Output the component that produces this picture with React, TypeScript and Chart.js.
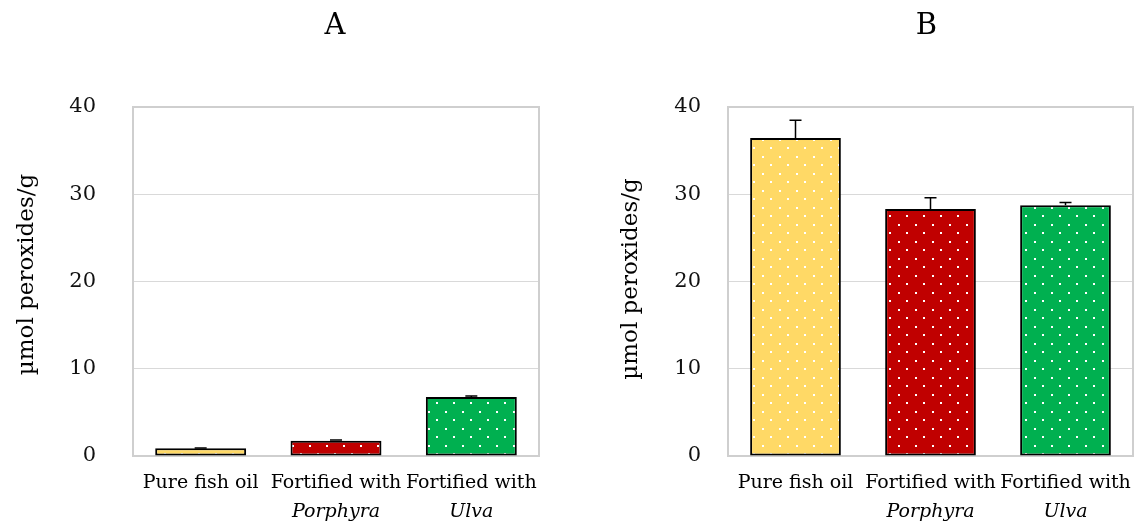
import React, { useEffect, useRef } from "react";
import { Chart, registerables } from "chart.js";

Chart.register(...registerables);

// ---- data ----
const categoriesLine1 = ["Pure fish oil", "Fortified with", "Fortified with"];
const categoriesLine2 = ["", "Porphyra", "Ulva"];
const valuesA = [0.88, 1.75, 6.77];
const errorsA = [0.05, 0.08, 0.1];
const valuesB = [36.45, 28.3, 28.75];
const errorsB = [2.03, 1.3, 0.3];
const yTicks = [0, 10, 20, 30, 40];
const barColors = ["#FFD966", "#C00000", "#00B050"];
const yTitle = "µmol peroxides/g";
const panelTitles = ["A", "B"];

const FONT = '"DejaVu Serif", "Liberation Serif", serif';
const CANVAS_H = 524;

type Panel = {
  title: string;
  values: number[];
  errors: number[];
  left: number;
  width: number;
  axisWidth: number;
  padRight: number;
  tickPad: number;
  yTitleX: number;
  yTitleY: number;
  titleX: number;
};

const panels: Panel[] = [
  {
    title: panelTitles[0],
    values: valuesA,
    errors: errorsA,
    left: 0,
    width: 572,
    axisWidth: 133,
    padRight: 33,
    tickPad: 37,
    yTitleX: 27,
    yTitleY: 274.5,
    titleX: 335,
  },
  {
    title: panelTitles[1],
    values: valuesB,
    errors: errorsB,
    left: 572,
    width: 573,
    axisWidth: 156,
    padRight: 12,
    tickPad: 27,
    yTitleX: 59,
    yTitleY: 279,
    titleX: 354.5,
  },
];

function makePattern(color: string): CanvasPattern | string {
  const c = document.createElement("canvas");
  c.width = 17;
  c.height = 17;
  const g = c.getContext("2d");
  if (!g) return color;
  g.fillStyle = color;
  g.fillRect(0, 0, 17, 17);
  g.fillStyle = "#ffffff";
  g.fillRect(3, 3, 2, 2);
  g.fillRect(11, 11, 2, 2);
  const p = g.createPattern(c, "repeat");
  return p || color;
}

function ChartPanel({ panel }: { panel: Panel }) {
  const ref = useRef<HTMLCanvasElement | null>(null);

  useEffect(() => {
    const canvas = ref.current;
    if (!canvas) return;

    const decorPlugin = {
      id: "decor",
      beforeDatasetsDraw(chart: any) {
        const { ctx, chartArea } = chart;
        ctx.save();
        ctx.strokeStyle = "#cfcfcf";
        ctx.lineWidth = 2;
        ctx.strokeRect(
          chartArea.left,
          chartArea.top,
          chartArea.right - chartArea.left,
          chartArea.bottom - chartArea.top
        );
        ctx.restore();
      },
      afterDatasetsDraw(chart: any) {
        const { ctx } = chart;
        const yScale = chart.scales.y;
        const meta = chart.getDatasetMeta(0);
        ctx.save();
        ctx.strokeStyle = "#000";
        ctx.lineWidth = 1.5;
        meta.data.forEach((el: any, i: number) => {
          const v = panel.values[i];
          const e = panel.errors[i];
          const yTop = yScale.getPixelForValue(v + e);
          const yVal = yScale.getPixelForValue(v);
          ctx.beginPath();
          ctx.moveTo(el.x, yVal);
          ctx.lineTo(el.x, yTop);
          ctx.moveTo(el.x - 6, yTop);
          ctx.lineTo(el.x + 6, yTop);
          ctx.stroke();
        });
        ctx.restore();
      },
      afterDraw(chart: any) {
        const { ctx } = chart;
        const xScale = chart.scales.x;
        ctx.save();
        ctx.fillStyle = "#000";
        // panel title
        ctx.font = `29px ${FONT}`;
        ctx.textAlign = "center";
        ctx.textBaseline = "alphabetic";
        ctx.fillText(panel.title, panel.titleX, 34);
        // y title
        ctx.save();
        ctx.translate(panel.yTitleX, panel.yTitleY);
        ctx.rotate(-Math.PI / 2);
        ctx.font = `23px ${FONT}`;
        ctx.textAlign = "center";
        ctx.textBaseline = "middle";
        ctx.fillText(yTitle, 0, 0);
        ctx.restore();
        // x labels
        ctx.textAlign = "center";
        ctx.textBaseline = "alphabetic";
        categoriesLine1.forEach((l1, i) => {
          const x = xScale.getPixelForValue(i);
          ctx.font = `19px ${FONT}`;
          ctx.fillText(l1, x, 488);
          const l2 = categoriesLine2[i];
          if (l2) {
            ctx.font = `italic 19px ${FONT}`;
            ctx.fillText(l2, x, 517);
          }
        });
        ctx.restore();
      },
    };

    const chart = new Chart(canvas, {
      type: "bar",
      data: {
        labels: categoriesLine1.map((l, i) =>
          categoriesLine2[i] ? `${l} ${categoriesLine2[i]}` : l
        ),
        datasets: [
          {
            data: panel.values,
            backgroundColor: barColors.map((c) => makePattern(c)) as any,
            borderColor: "#000",
            borderWidth: 2,
            borderSkipped: false,
            barPercentage: 0.672,
            categoryPercentage: 1,
          },
        ],
      },
      options: {
        animation: false,
        responsive: false,
        maintainAspectRatio: false,
        layout: {
          padding: { left: 0, right: panel.padRight, top: 107, bottom: 0 },
        },
        plugins: {
          legend: { display: false },
          tooltip: { enabled: false },
          title: { display: false },
        },
        scales: {
          x: {
            grid: { display: false },
            border: { display: false },
            ticks: { display: false },
            afterFit: (scale: any) => {
              scale.height = 68;
            },
          },
          y: {
            min: 0,
            max: 40,
            grid: {
              color: "#d9d9d9",
              lineWidth: 1,
              drawTicks: false,
            },
            border: { display: false },
            ticks: {
              padding: panel.tickPad,
              color: "#111",
              font: { family: FONT, size: 21 },
            },
            afterBuildTicks: (scale: any) => {
              scale.ticks = yTicks.map((v) => ({ value: v }));
            },
            afterFit: (scale: any) => {
              scale.width = panel.axisWidth;
            },
          },
        },
      },
      plugins: [decorPlugin],
    });

    return () => chart.destroy();
  }, [panel]);

  return (
    <canvas
      ref={ref}
      width={panel.width}
      height={CANVAS_H}
      style={{
        position: "absolute",
        left: panel.left,
        top: 0,
        width: panel.width,
        height: CANVAS_H,
        display: "block",
      }}
    />
  );
}

export default function App() {
  return (
    <div
      style={{
        position: "fixed",
        left: 0,
        top: 0,
        width: 1145,
        height: CANVAS_H,
        background: "#fff",
        overflow: "hidden",
      }}
    >
      {panels.map((p) => (
        <ChartPanel key={p.title} panel={p} />
      ))}
    </div>
  );
}
